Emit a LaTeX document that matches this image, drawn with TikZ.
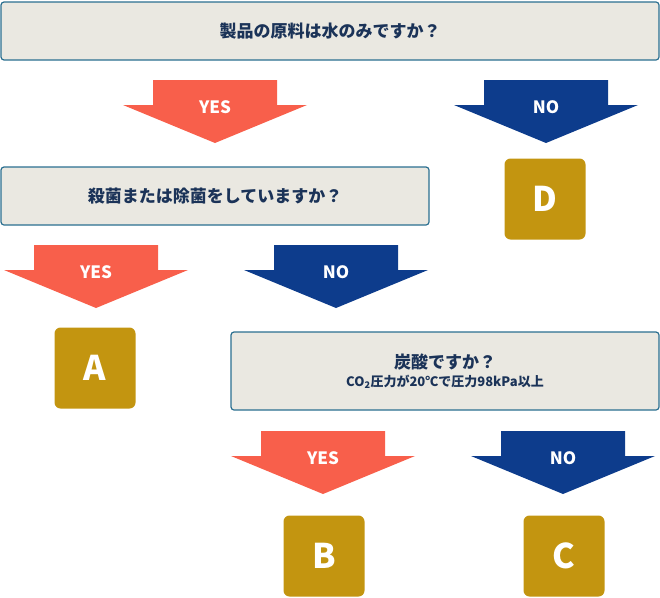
\documentclass[tikz,border=0pt]{standalone}
\usepackage{fontspec}
\setmainfont{Noto Sans CJK JP}
\usetikzlibrary{positioning}
\definecolor{navy}{HTML}{0D3C8C}
\definecolor{salmon}{HTML}{F85F4B}
\definecolor{gold}{HTML}{C39510}
\definecolor{boxgray}{HTML}{EAE8E1}
\definecolor{boxline}{HTML}{2B6F90}
\definecolor{textnavy}{HTML}{1B3358}
\begin{document}
\begin{tikzpicture}[x=1pt,y=-1pt,
    question/.style={draw=boxline, line width=1.2pt, fill=boxgray, rounded corners=3pt, font=\bfseries\fontsize{17}{20}\selectfont, text=textnavy},
    answer/.style={fill=gold, rounded corners=6pt, minimum width=81pt, minimum height=81pt, font=\bfseries\fontsize{34}{36}\selectfont, text=white},
    arrowlabel/.style={text=white, font=\bfseries\fontsize{17}{20}\selectfont},
    pics/bigarrow/.style={code={
        \fill[#1] (-62,0) -- (62,0) -- (62,25) -- (92,25) -- (0,63) -- (-92,25) -- (-62,25) -- cycle;
    }}]
    \useasboundingbox (0,0) rectangle (660,597);
    % Fragen
    \node[question, minimum width=658pt, minimum height=58pt] (q1) at (330,31) {製品の原料は水のみですか？};
    \node[question, minimum width=428pt, minimum height=58pt] (q2) at (215,196) {殺菌または除菌をしていますか？};
    \node[question, minimum width=428pt, minimum height=78pt, align=center] (q3) at (445,371)
        {炭酸ですか？\\[-2pt]{\fontsize{13}{15}\selectfont CO\textsubscript{2}圧力が20℃で圧力98kPa以上}};

    % Pfeile
    \pic at (215,80) {bigarrow=salmon};
    \node[arrowlabel] (y1) at (215,107) {YES};
    \pic at (546,80) {bigarrow=navy};
    \node[arrowlabel] (n1) at (546,107) {NO};
    \pic at (96,245) {bigarrow=salmon};
    \node[arrowlabel] (y2) at (96,272) {YES};
    \pic at (336,245) {bigarrow=navy};
    \node[arrowlabel] (n2) at (336,272) {NO};
    \pic at (323,431) {bigarrow=salmon};
    \node[arrowlabel] (y3) at (323,458) {YES};
    \pic at (563,431) {bigarrow=navy};
    \node[arrowlabel] (n3) at (563,458) {NO};

    % Ergebnisse
    \node[answer] (D) at (545,199) {D};
    \node[answer] (A) at (95,368) {A};
    \node[answer] (B) at (324,556) {B};
    \node[answer] (C) at (564,556) {C};
\end{tikzpicture}
\end{document}
